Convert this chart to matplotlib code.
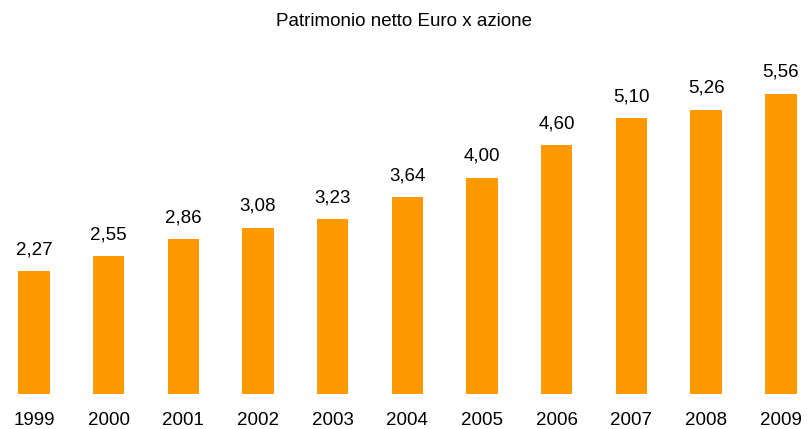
import matplotlib
matplotlib.use("Agg")
import matplotlib.pyplot as plt

plt.rcParams['font.family'] = ['Liberation Sans', 'DejaVu Sans']

anni = ['1999', '2000', '2001', '2002', '2003', '2004', '2005', '2006', '2007', '2008', '2009']
valori = [2.27, 2.55, 2.86, 3.08, 3.23, 3.64, 4.00, 4.60, 5.10, 5.26, 5.56]
titolo = 'Patrimonio netto Euro x azione'

fig = plt.figure(figsize=(8.07, 4.29), dpi=100)
ax = fig.add_axes([0, 35/429, 1, 335/429])

x = list(range(len(anni)))
ax.bar(x, valori, width=0.42, color='#FF9900')
for xi, v in zip(x, valori):
    ax.text(xi, v + 0.24, f'{v:.2f}'.replace('.', ','), ha='center', va='bottom', fontsize=13.5)

ax.set_xlim(-0.455, 10.35)
ax.set_ylim(0, 6.2)
ax.set_xticks(x)
ax.set_xticklabels(anni, fontsize=13.5)
ax.tick_params(axis='x', length=0, pad=13)
ax.set_yticks([])
for s in ax.spines.values():
    s.set_visible(False)

fig.text(0.5, 1 - 21/429, titolo, ha='center', va='center', fontsize=13.5)

fig.savefig('out.png', dpi=100)
